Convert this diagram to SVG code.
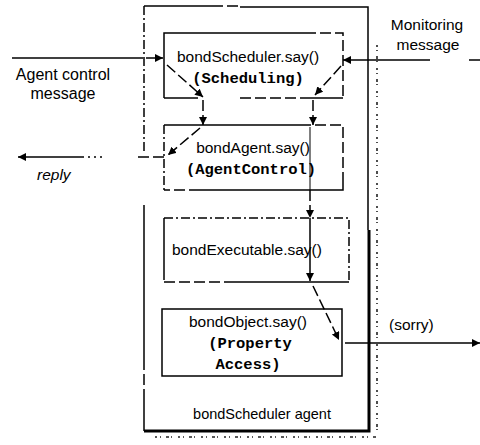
<svg xmlns="http://www.w3.org/2000/svg" width="480" height="445" viewBox="0 0 480 445">
  <style>
    .ln { fill: none; stroke: #000; stroke-width: 1.5; }
    .dash { stroke-dasharray: 11 4; }
    .dd { stroke-dasharray: 9 3 2 3; }
    .dot { stroke-dasharray: 2 4; }
    .grain { fill: none; stroke: #222; stroke-width: 1.6; stroke-dasharray: 2 3 1 5 3 2 1 6; }
    .t { font-family: "Liberation Sans", Arial, sans-serif; font-size: 15.5px; fill: #000; }
    .m { font-family: "Liberation Mono", "Courier New", monospace; font-size: 15.5px; font-weight: bold; fill: #000; }
    .c { text-anchor: middle; }
  </style>
  <defs>
    <marker id="ah" markerWidth="9" markerHeight="9" refX="8" refY="4" orient="auto" markerUnits="userSpaceOnUse">
      <path d="M0,0 L8,4 L0,8 z" fill="#000"/>
    </marker>
  </defs>

  <!-- bondScheduler agent container -->
  <g id="agent">
    <path class="ln" d="M144,6 H212"/>
    <path class="ln dash" d="M212,6 H240"/>
    <path class="ln" d="M240,7 H368 V230"/>
    <path class="ln" d="M369,230 V431 H144" style="stroke-width:3"/>
    <path class="ln" d="M144,431 V400"/>
    <path class="ln dash" d="M144,400 V360"/>
    <path class="ln" d="M144,360 V205"/>
    <path class="ln dd" d="M144,6 V153"/>
    <path class="grain" d="M377,45 V430"/>
    <path class="grain" d="M155,437 H378"/>
    <text class="t c" x="262" y="419" style="font-size:14.5px">bondScheduler agent</text>
  </g>

  <!-- Scheduling object -->
  <g id="scheduler">
    <path class="ln" d="M164,98 V33 H305"/>
    <path class="ln dash" d="M305,33 H343 V98"/>
    <path class="ln" d="M164,98 H198"/>
    <path class="ln dash" d="M240,98 H300"/>
    <path class="ln" d="M300,98 H343"/>
    <text class="t c" x="248" y="62">bondScheduler.say()</text>
    <text class="m c" x="248" y="83">(Scheduling)</text>
  </g>

  <!-- AgentControl object -->
  <g id="agentcontrol">
    <path class="ln" d="M164,125 H300"/>
    <path class="ln dash" d="M300,125 H343 V175"/>
    <path class="ln" d="M343,175 V190 H200"/>
    <path class="ln dash" d="M200,190 H164"/>
    <path class="ln dd" d="M164,125 V190"/>
    <text class="t c" x="253" y="153">bondAgent.say()</text>
    <text class="m c" x="251" y="174">(AgentControl)</text>
  </g>

  <!-- Executable object -->
  <g id="executable">
    <path class="ln dd" d="M164,218 H349 V282"/>
    <path class="ln" d="M164,218 V280"/>
    <path class="ln dash" d="M164,282 H230"/>
    <path class="ln" d="M230,282 H349"/>
    <text class="t" x="172" y="255">bondExecutable.say()</text>
  </g>

  <!-- Property Access object -->
  <g id="property">
    <path class="ln" d="M162,309 H342 V376 H162 Z"/>
    <text class="t c" x="248" y="327">bondObject.say()</text>
    <text class="m c" x="250" y="348">(Property</text>
    <text class="m c" x="248" y="369">Access)</text>
  </g>

  <!-- message labels -->
  <g id="labels">
    <text class="t c" x="63" y="80" style="font-size:16px">Agent control</text>
    <text class="t c" x="63" y="99" style="font-size:16px">message</text>
    <text class="t c" x="427" y="30">Monitoring</text>
    <text class="t c" x="428" y="50">message</text>
    <text class="t" x="37" y="180" font-style="italic">reply</text>
    <text class="t" x="389" y="330">(sorry)</text>
  </g>

  <!-- connectors -->
  <g id="connectors">
    <!-- agent control message in -->
    <path class="ln" d="M12,58 H143"/>
    <path class="ln dash" d="M146,58 H163" marker-end="url(#ah)"/>
    <path class="ln dash" d="M167,65 L203,97" marker-end="url(#ah)"/>
    <path class="ln dash" d="M203,100 V125" marker-end="url(#ah)"/>

    <!-- monitoring message in -->
    <path class="ln dash" d="M480,60 H468"/>
    <path class="ln" d="M430,60 H343" marker-end="url(#ah)"/>
    <path class="ln dash" d="M341,66 L315,95" marker-end="url(#ah)"/>
    <path class="ln dash" d="M313,100 V125" marker-end="url(#ah)"/>

    <!-- reply out -->
    <path class="ln dash" d="M200,128 L168,155" marker-end="url(#ah)"/>
    <path class="ln dash" d="M164,157 H134"/>
    <path class="ln dot" d="M102,157 H82"/>
    <path class="ln" d="M82,157 H18" marker-end="url(#ah)"/>

    <!-- down through the stack -->
    <path class="ln" d="M310,127 V190" style="stroke-width:1"/>
    <path class="ln dash" d="M310,190 V218" marker-end="url(#ah)"/>
    <path class="ln" d="M310,218 V281" marker-end="url(#ah)"/>
    <path class="ln dash" d="M313,286 L339,340" marker-end="url(#ah)"/>

    <!-- sorry out -->
    <path class="ln" d="M345,343 H480" marker-end="url(#ah)"/>
  </g>
</svg>
